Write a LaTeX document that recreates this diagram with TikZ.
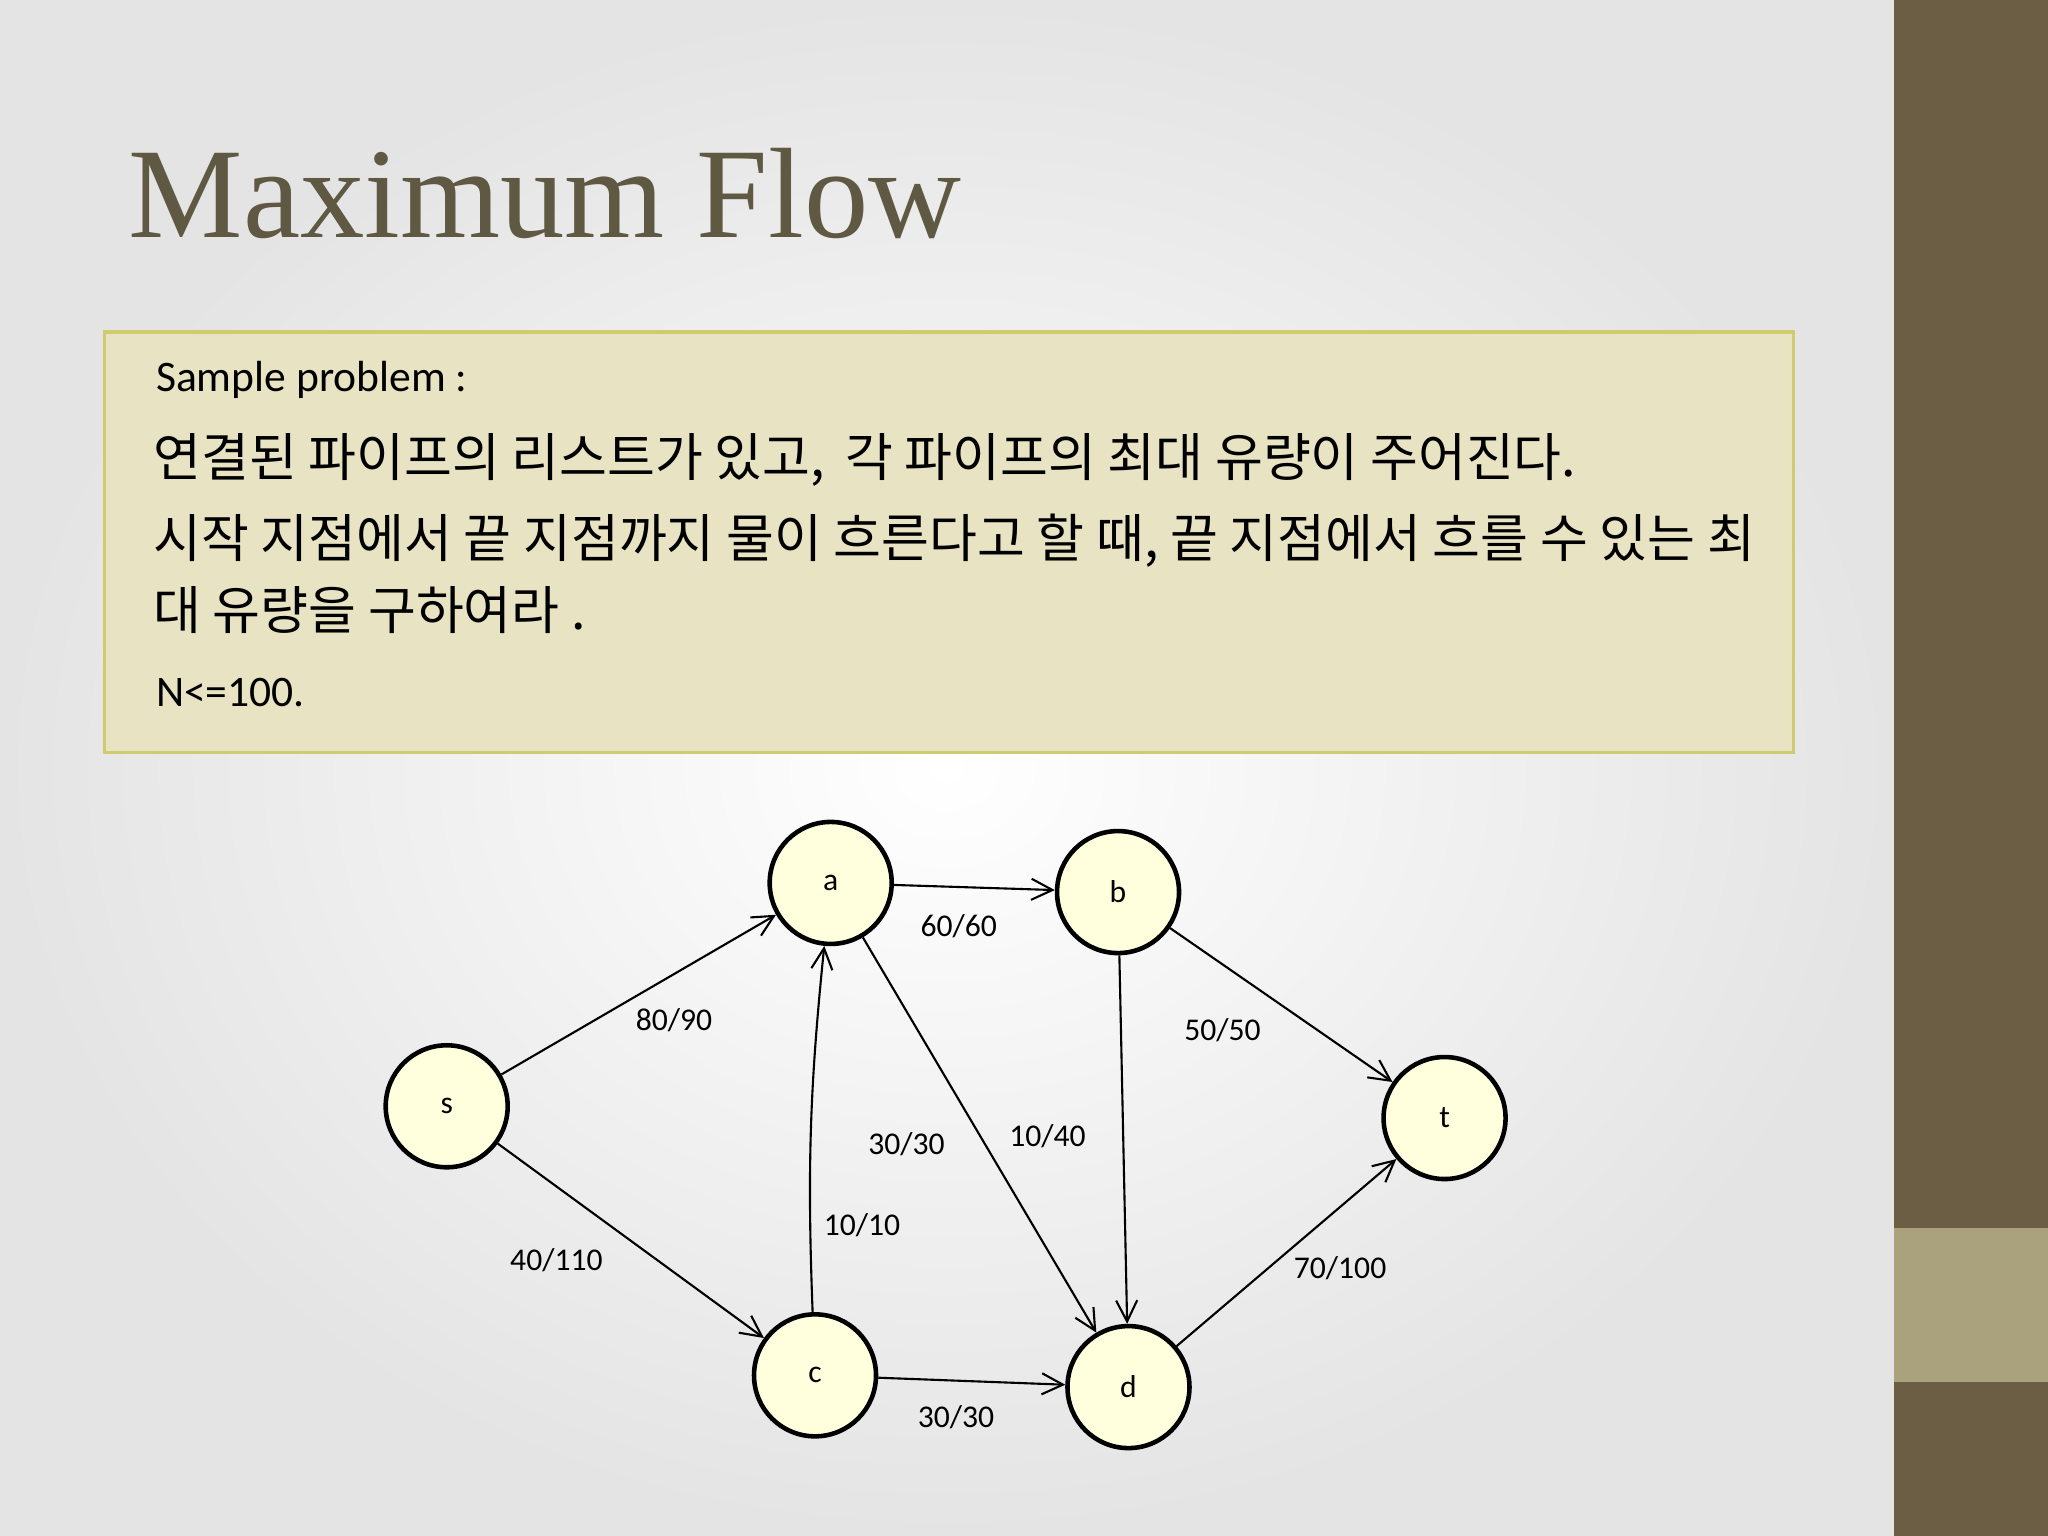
\documentclass[tikz,border=0pt]{standalone}
\usepackage{fontspec}
\setmainfont{Carlito}
\newfontfamily\kr{Noto Sans CJK KR}
\newfontfamily\titlefont{Liberation Serif}
\usetikzlibrary{arrows.meta}
\definecolor{olive}{HTML}{6B5E45}
\definecolor{oliveL}{HTML}{AAA27C}
\definecolor{boxfill}{HTML}{E8E3C3}
\definecolor{boxline}{HTML}{CFCB6E}
\definecolor{titlec}{HTML}{5F5842}
\definecolor{nodefill}{HTML}{FFFFDD}
\definecolor{bgedge}{HTML}{E4E4E4}
\tikzset{
  vtx/.style={circle,draw=black,line width=1.3pt,fill=nodefill,minimum size=1.22cm,inner sep=0pt,font=\fontsize{9}{9}\selectfont},
  edge/.style={line width=0.6pt,-{Straight Barb[length=6pt,width=6pt]}},
  lab/.style={font=\fontsize{9}{9}\selectfont},
  kline/.style={anchor=west,font=\kr\fontsize{14.8}{16}\selectfont},
}
\begin{document}
\begin{tikzpicture}[x=0.01306cm,y=-0.01306cm]
\useasboundingbox (0,0) rectangle (1568,1176);
\shade[inner color=white,outer color=bgedge] (0,0) rectangle (1450,1176);
\fill[olive] (1450,0) rectangle (1568,1176);
\fill[oliveL] (1450,940) rectangle (1568,1058);
\node[anchor=base west,text=titlec,font=\titlefont\fontsize{36.6}{36}\selectfont,inner sep=0] (title) at (98,182) {Maximum Flow};
\draw[boxline,fill=boxfill,line width=1pt] (80,254) rectangle (1373,576);
\node[anchor=west,font=\fontsize{12.4}{12}\selectfont] (sp) at (110,291) {Sample problem :};
\node[kline] (k1) at (108,352) {연결된 파이프의 리스트가 있고,\, 각 파이프의 최대 유량이 주어진다.};
\node[kline] (k2) at (108,414) {시작 지점에서 끝 지점까지 물이 흐른다고 할 때, 끝 지점에서 흐를 수 있는 최};
\node[kline] (k3) at (108,467) {대 유량을 구하여라 .};
\node[anchor=west,font=\fontsize{12.4}{12}\selectfont] (nn) at (110,530) {N<=100.};
\node[vtx] (s) at (342,847) {s};
\node[vtx] (a) at (636,676) {a};
\node[vtx] (b) at (856,683) {b};
\node[vtx] (t) at (1106,856) {t};
\node[vtx] (c) at (624,1053) {c};
\node[vtx] (d) at (864,1062) {d};
\draw[edge] (s) -- (a);
\draw[edge] (s) -- (c);
\draw[edge] (a) -- (b);
\draw[edge] (c) to[bend left=4] (a);
\draw[edge] (a) -- (d);
\draw[edge] (b) -- (d);
\draw[edge] (b) -- (t);
\draw[edge] (d) -- (t);
\draw[edge] (c) -- (d);
\node[lab] (l1) at (516,781) {80/90};
\node[lab] (l2) at (426,965) {40/110};
\node[lab] (l3) at (734,709) {60/60};
\node[lab] (l4) at (694,876) {30/30};
\node[lab] (l5) at (802,870) {10/40};
\node[lab] (l6) at (660,938) {10/10};
\node[lab] (l7) at (936,789) {50/50};
\node[lab] (l8) at (1026,971) {70/100};
\node[lab] (l9) at (732,1085) {30/30};
\end{tikzpicture}
\end{document}
